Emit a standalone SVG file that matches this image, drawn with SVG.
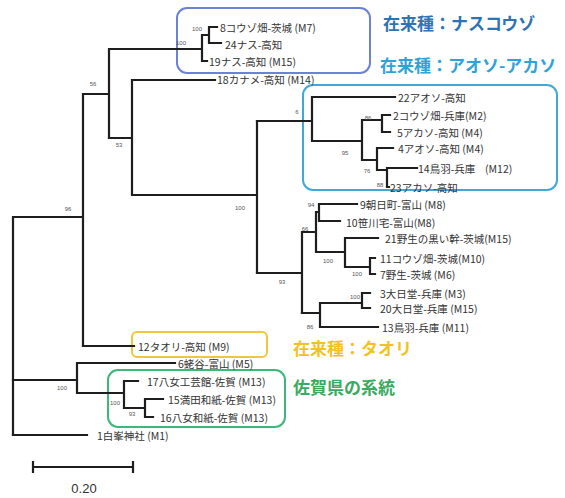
<svg xmlns="http://www.w3.org/2000/svg" width="565" height="498" viewBox="0 0 565 498">
<style>
.br{fill:none;stroke:#1e1e1e;stroke-width:2.2;stroke-linecap:square}
.lb{font-family:"Noto Sans CJK JP","Liberation Sans",sans-serif;font-size:10.5px;fill:#333;dominant-baseline:central}
.bs{font-family:"Liberation Sans","Noto Sans CJK JP",sans-serif;font-size:6px;fill:#555;dominant-baseline:central}
.ti{font-family:"Noto Sans CJK JP",sans-serif;font-size:17px;font-weight:bold;dominant-baseline:central}
.box{fill:none;stroke-width:2}
</style>
<rect width="565" height="498" fill="#fff"/>
<g id="boxes">
<rect class="box" x="177" y="8" width="193" height="65" rx="10" stroke="#6b82d6"/>
<rect class="box" x="303" y="85" width="254" height="105" rx="10" stroke="#3fa9dc"/>
<rect class="box" x="132" y="332" width="135" height="25" rx="5" stroke="#f2c63a"/>
<rect class="box" x="108" y="370" width="177" height="57" rx="10" stroke="#3cb878"/>
</g>
<g id="connectors">
<path class="br" d="M13 217 V435 M13 217 H83 M83 94 V346 M83 94 H109 M109 49 V138 M109 49 H202 M202 35 V61 M202 61 H207 M202 35 H209 M209 27 V43 M209 27 H217 M209 43 H221"/>
<path class="br" d="M109 138 H132 M132 80 V195 M132 80 H215 M132 195 H257 M257 121 V273"/>
<path class="br" d="M257 121 H312 M312 97 V141 M312 97 H395 M312 141 H362 M362 120 V160 M362 120 H382 M382 115 V132 M382 115 H390 M382 132 H390 M362 160 H377 M377 148 V170 M377 148 H393 M377 170 H387 M387 168 V187 M387 168 H417 M387 187 H389"/>
<path class="br" d="M257 273 H302 M302 232 V313 M302 232 H316 M316 212 V252 M316 212 H319 M319 204 V221 M319 204 H357 M319 221 H340 M316 252 H345 M345 238 V267 M345 238 H378 M345 267 H370 M370 258 V274 M370 258 H375 M370 274 H375"/>
<path class="br" d="M302 313 H320 M320 303 V327 M320 303 H362 M362 293 V308 M362 293 H370 M362 308 H370 M320 327 H378"/>
<path class="br" d="M83 346 H134 M13 380 H77 M77 363 V393 M77 363 H175 M77 393 H124 M124 381 V408 M124 381 H138 M124 408 H145 M145 399 V417 M145 399 H163 M145 417 H153 M13 435 H87"/>
</g>
<g id="support">
<text class="bs" x="68" y="209" text-anchor="middle">96</text>
<text class="bs" x="93" y="84" text-anchor="middle">56</text>
<text class="bs" x="119" y="145" text-anchor="middle">53</text>
<text class="bs" x="240" y="208" text-anchor="middle">100</text>
<text class="bs" x="282" y="282" text-anchor="middle">93</text>
<text class="bs" x="197" y="29" text-anchor="middle">100</text>
<text class="bs" x="181" y="43" text-anchor="middle">100</text>
<text class="bs" x="297" y="112" text-anchor="middle">6</text>
<text class="bs" x="368" y="118" text-anchor="middle">86</text>
<text class="bs" x="345" y="153" text-anchor="middle">95</text>
<text class="bs" x="367" y="171" text-anchor="middle">76</text>
<text class="bs" x="380" y="185" text-anchor="middle">88</text>
<text class="bs" x="311" y="205" text-anchor="middle">94</text>
<text class="bs" x="305" y="229" text-anchor="middle">66</text>
<text class="bs" x="328" y="261" text-anchor="middle">100</text>
<text class="bs" x="357" y="274" text-anchor="middle">100</text>
<text class="bs" x="355" y="297" text-anchor="middle">100</text>
<text class="bs" x="310" y="327" text-anchor="middle">86</text>
<text class="bs" x="62" y="388" text-anchor="middle">100</text>
<text class="bs" x="115" y="403" text-anchor="middle">100</text>
<text class="bs" x="132" y="414" text-anchor="middle">93</text>
</g>
<g id="leaves">
<text class="lb" x="220" y="27">8コウゾ畑-茨城 (M7)</text>
<text class="lb" x="225" y="44">24ナス-高知</text>
<text class="lb" x="209" y="61">19ナス-高知 (M15)</text>
<text class="lb" x="217" y="79">18カナメ-高知 (M14)</text>
<text class="lb" x="398" y="97">22アオソ-高知</text>
<text class="lb" x="393" y="115">2コウゾ畑-兵庫(M2)</text>
<text class="lb" x="397" y="132">5アカソ-高知 (M4)</text>
<text class="lb" x="398" y="148">4アオソ-高知 (M4)</text>
<text class="lb" x="418" y="168">14鳥羽-兵庫<tspan x="485">(M12)</tspan></text>
<text class="lb" x="390" y="187">23アカソ-高知</text>
<text class="lb" x="360" y="204">9朝日町-富山 (M8)</text>
<text class="lb" x="346" y="222">10笹川宅-富山(M8)</text>
<text class="lb" x="385" y="238">21野生の黒い幹-茨城(M15)</text>
<text class="lb" x="380" y="258">11コウゾ畑-茨城(M10)</text>
<text class="lb" x="380" y="274">7野生-茨城 (M6)</text>
<text class="lb" x="380" y="293">3大日堂-兵庫 (M3)</text>
<text class="lb" x="380" y="308">20大日堂-兵庫 (M15)</text>
<text class="lb" x="382" y="327">13鳥羽-兵庫 (M11)</text>
<text class="lb" x="138" y="346">12タオリ-高知 (M9)</text>
<text class="lb" x="178" y="363">6蛯谷-富山 (M5)</text>
<text class="lb" x="147" y="381">17八女工芸館-佐賀 (M13)</text>
<text class="lb" x="168" y="399">15満田和紙-佐賀 (M13)</text>
<text class="lb" x="160" y="417">16八女和紙-佐賀 (M13)</text>
<text class="lb" x="97" y="435">1白峯神社 (M1)</text>
</g>
<g id="titles">
<text class="ti" x="383" y="22" fill="#2e74b5">在来種：ナスコウゾ</text>
<text class="ti" x="380" y="64" fill="#2fa3d8">在来種：アオソ-アカソ</text>
<text class="ti" x="293" y="347" fill="#f3c21f">在来種：タオリ</text>
<text class="ti" x="293" y="386" fill="#3aaa5f">佐賀県の系統</text>
</g>
<g id="scale">
<path class="br" d="M33 467 H133 M33 462 V472 M133 462 V472"/>
<text x="84" y="493" text-anchor="middle" font-family="Liberation Sans, sans-serif" font-size="13" fill="#333">0.20</text>
</g>
</svg>
